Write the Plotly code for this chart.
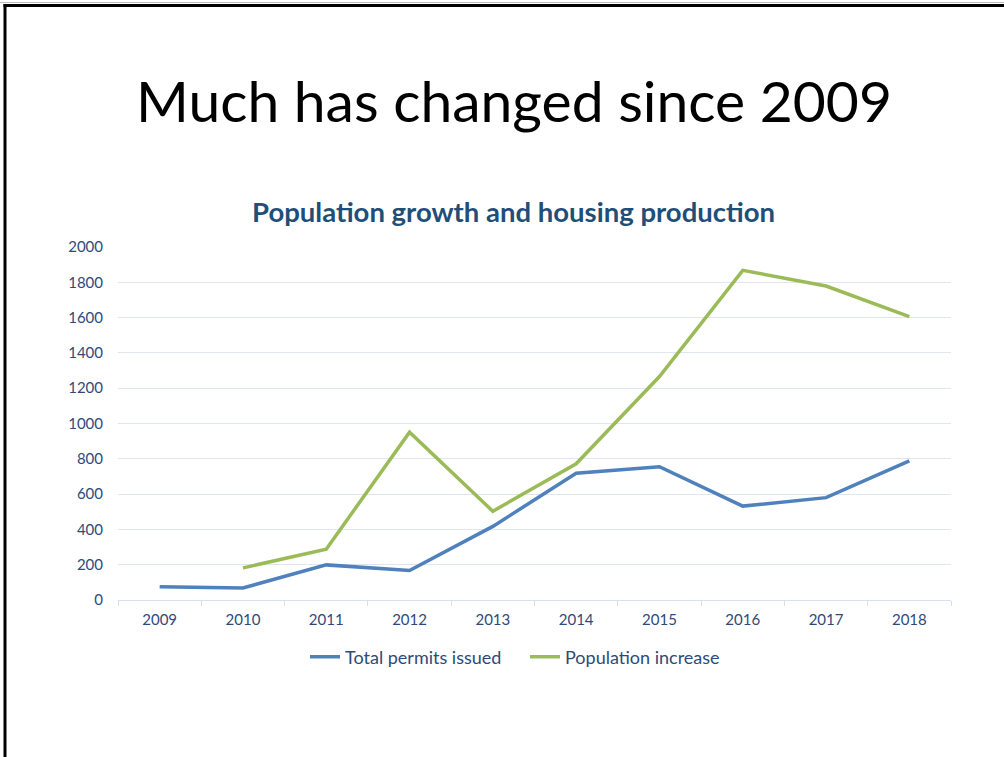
import plotly.graph_objects as go

years = ["2009", "2010", "2011", "2012", "2013", "2014", "2015", "2016", "2017", "2018"]
permits = [75, 68, 199, 167, 417, 718, 755, 532, 580, 788]
population = [None, 182, 288, 951, 503, 772, 1266, 1868, 1779, 1606]
y_ticks = [0, 200, 400, 600, 800, 1000, 1200, 1400, 1600, 1800, 2000]

W, H = 1004, 757
L, R, T, B = 118, 951, 247, 600

def px_x(x):
    return (x - L) / (R - L)

def px_y(y):
    return (B - y) / (B - T)

fig = go.Figure()
fig.add_trace(go.Scatter(x=years, y=permits, mode="lines", name="Total permits issued",
                         line=dict(color="#4f81bd", width=3.5)))
fig.add_trace(go.Scatter(x=years, y=population, mode="lines", name="Population increase",
                         line=dict(color="#9bbb59", width=3.5)))

fig.update_layout(
    width=W, height=H,
    margin=dict(l=L, r=W - R, t=T, b=H - B),
    paper_bgcolor="white", plot_bgcolor="white",
    font=dict(family="Lato, Open Sans, sans-serif", color="#2e4a7a"),
    showlegend=True,
    legend=dict(orientation="h", x=px_x(525), xanchor="center", y=px_y(657), yanchor="middle",
                font=dict(size=18, color="#2e4a7a"), itemwidth=30, tracegroupgap=0,
                entrywidth=175, entrywidthmode="pixels"),
    xaxis=dict(type="category", range=[-0.5, 9.5], tickson="boundaries", ticks="outside",
               ticklen=5, tickcolor="#d6e0ef", showline=True, linecolor="#d6e0ef", linewidth=1,
               showgrid=False, tickfont=dict(size=15, color="#2e4a7a"), ticklabelstandoff=6,
               fixedrange=True),
    yaxis=dict(range=[0, 2000], tickvals=y_ticks, showgrid=True, gridcolor="#e0e5ef",
               gridwidth=1, zeroline=False, showline=False, ticks="",
               tickfont=dict(size=15, color="#2e4a7a"), ticklabelstandoff=14, fixedrange=True),
    annotations=[
        dict(text="Much has changed since 2009", xref="paper", yref="paper",
             x=px_x(514), y=px_y(100), xanchor="center", yanchor="middle", showarrow=False,
             font=dict(family="Lato, Open Sans, sans-serif", size=57, color="black")),
        dict(text="<b>Population growth and housing production</b>", xref="paper", yref="paper",
             x=px_x(513), y=px_y(212), xanchor="center", yanchor="middle", showarrow=False,
             font=dict(family="Lato, Open Sans, sans-serif", size=27.5, color="#1f4e79")),
    ],
    shapes=[
        dict(type="line", xref="paper", yref="paper", x0=px_x(0), x1=px_x(W), y0=px_y(2.5), y1=px_y(2.5),
             line=dict(color="#bbbbbb", width=1)),
        dict(type="line", xref="paper", yref="paper", x0=px_x(3.5), x1=px_x(W), y0=px_y(5.5), y1=px_y(5.5),
             line=dict(color="black", width=3)),
        dict(type="line", xref="paper", yref="paper", x0=px_x(5), x1=px_x(5), y0=px_y(4), y1=px_y(H),
             line=dict(color="black", width=3)),
    ],
)

fig.write_html("out.html")
